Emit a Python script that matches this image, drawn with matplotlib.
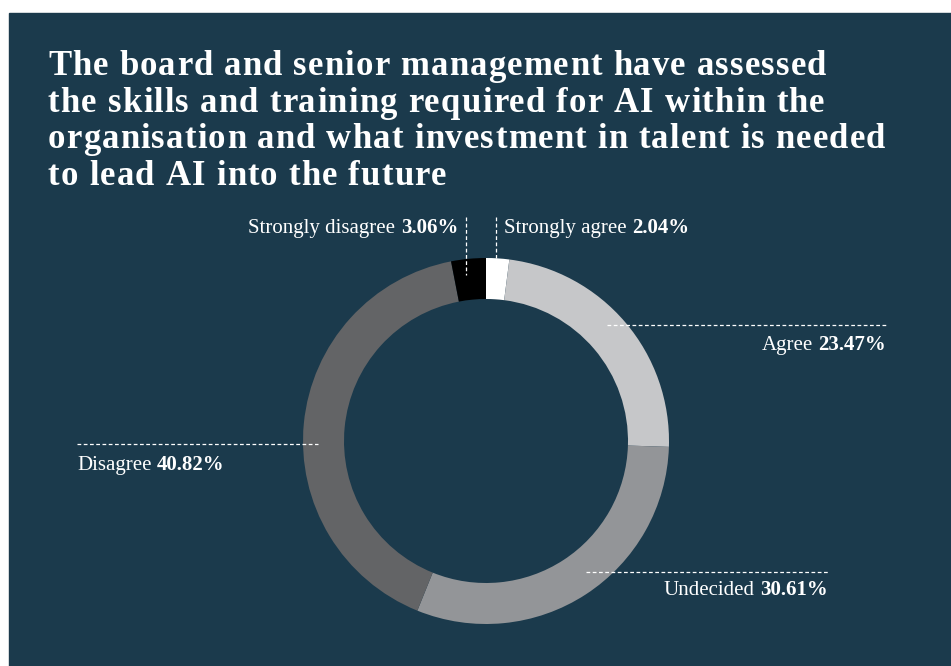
import matplotlib
matplotlib.use("Agg")
import matplotlib.pyplot as plt
from matplotlib.font_manager import FontProperties

# data
labels = ["Strongly agree", "Agree", "Undecided", "Disagree", "Strongly disagree"]
values = [2.04, 23.47, 30.61, 40.82, 3.06]
colours = ["#ffffff", "#c6c7c9", "#939598", "#636466", "#000000"]

title_lines = [
    "The board and senior management have assessed",
    "the skills and training required for AI within the",
    "organisation and what investment in talent is needed",
    "to lead AI into the future",
]
# right edge of each title line in the reference (pixels)
title_ends = [820, 823, 893, 447]

BG = "#1b3a4c"
W, H = 951, 666

fig = plt.figure(figsize=(W / 100, H / 100), dpi=100)
fig.patch.set_facecolor("white")
ax = fig.add_axes([0, 0, 1, 1])


def Y(y):
    # image row -> data y
    return H - y


renderer = fig.canvas.get_renderer()


def char_width(ch, prop):
    if ch == " ":
        w1, _, _ = renderer.get_text_width_height_descent("x x", prop, ismath=False)
        w2, _, _ = renderer.get_text_width_height_descent("xx", prop, ismath=False)
        return w1 - w2
    w, _, _ = renderer.get_text_width_height_descent(ch, prop, ismath=False)
    return w


def tracked_text(x, y, s, prop, tracking):
    for ch in s:
        if ch != " ":
            ax.text(x, y, ch, fontproperties=prop, color="white",
                    ha="left", va="baseline")
        x += char_width(ch, prop) + tracking


# donut
ax.pie(values, colors=colours, startangle=90, counterclock=False,
       center=(486, Y(441)), radius=183, frame=True,
       wedgeprops=dict(width=41, linewidth=0))
ax.set_xlim(0, W)
ax.set_ylim(0, H)
ax.axis("off")

# dark panel
ax.add_patch(plt.Rectangle((9, 0), W - 9, H - 13, color=BG, zorder=-5))

# title with letter spacing (one tracking value for all lines)
tprop = FontProperties(family="Liberation Serif", weight="bold", size=25)
tracks = []
for line, end in zip(title_lines, title_ends):
    raw = sum(char_width(c, tprop) for c in line)
    tracks.append((end - 48 - raw) / (len(line) - 1))
tracking = sum(tracks) / len(tracks)
for i, line in enumerate(title_lines):
    tracked_text(48, Y(75 + i * 36.7), line, tprop, tracking)

# leader lines
lk = dict(color="white", lw=0.9, linestyle=(0, (3, 2)))
ax.plot([466, 466], [Y(217), Y(275)], **lk)
ax.plot([496, 496], [Y(217), Y(258)], **lk)
ax.plot([607, 886], [Y(325), Y(325)], **lk)
ax.plot([77, 318], [Y(444), Y(444)], **lk)
ax.plot([586, 828], [Y(572), Y(572)], **lk)

# labels: name regular + value bold
nprop = FontProperties(family="Liberation Serif", size=15)
bprop = FontProperties(family="Liberation Serif", weight="bold", size=15)


def label(x, y, name, val, ha):
    vstr = f"{val:.2f}%"
    wn, _, _ = renderer.get_text_width_height_descent(name, nprop, ismath=False)
    wn += char_width(" ", nprop)
    wv, _, _ = renderer.get_text_width_height_descent(vstr, bprop, ismath=False)
    x0 = x if ha == "left" else x - wn - wv
    ax.text(x0, y, name, fontproperties=nprop, color="white", ha="left", va="baseline")
    ax.text(x0 + wn, y, vstr, fontproperties=bprop, color="white", ha="left", va="baseline")


label(458, Y(233), labels[4], values[4], "right")
label(504, Y(233), labels[0], values[0], "left")
label(886, Y(350), labels[1], values[1], "right")
label(77, Y(470), labels[3], values[3], "left")
label(828, Y(595), labels[2], values[2], "right")

fig.savefig("out.png", dpi=100, facecolor="white")
